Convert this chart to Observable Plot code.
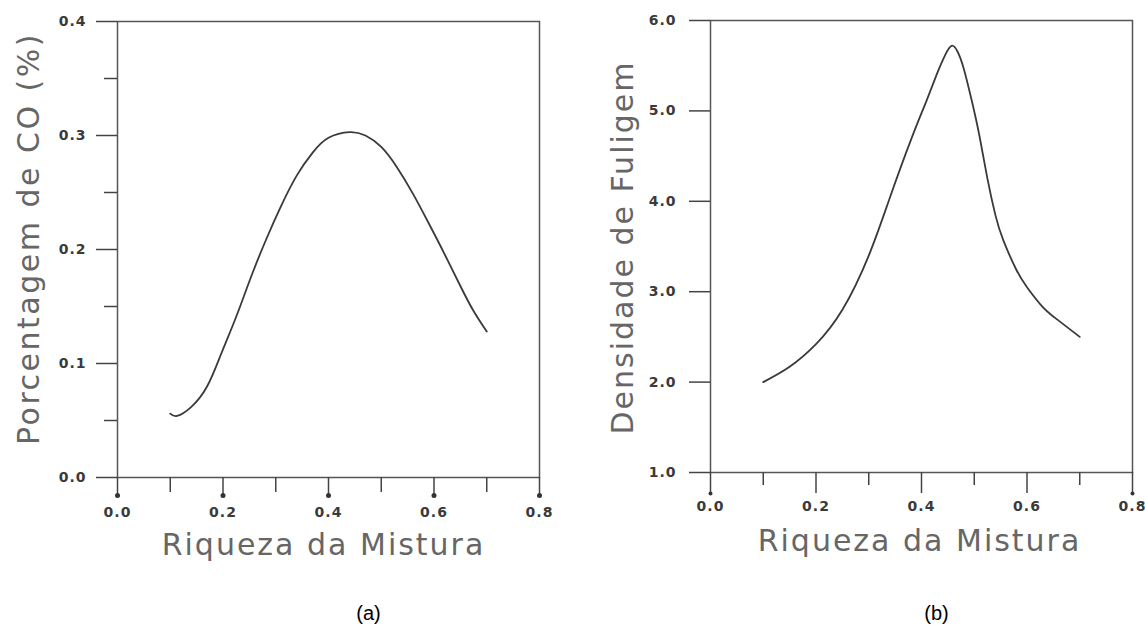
<!DOCTYPE html>
<html><head><meta charset="utf-8">
<script src="https://cdn.jsdelivr.net/npm/d3@7"></script>
<script src="https://cdn.jsdelivr.net/npm/@observablehq/plot@0.6"></script>
<style>
html,body{margin:0;padding:0;background:#fff;}
#wrap{position:relative;width:1145px;height:626px;overflow:hidden;background:#fff;}
#wrap svg{position:absolute;top:0;}
g[aria-label$="tick label"] text{letter-spacing:1px;}
</style></head><body><div id="wrap"></div>
<script>
// Tick values
const xTicks = [0, 0.2, 0.4, 0.6, 0.8];
const xMinor = [0.1, 0.3, 0.5, 0.7];
const coTicks = [0, 0.1, 0.2, 0.3, 0.4];
const coMinor = [0.05, 0.15, 0.25, 0.35];
const sootTicks = [1, 2, 3, 4, 5, 6];
const sootDots = [0, 0.8];

// Titles
const xTitle = "Riqueza da Mistura";
const yTitleA = "Porcentagem de CO (%)";
const yTitleB = "Densidade de Fuligem";

// (a) CO percentage vs mixture richness
const riquezaA = [0.10, 0.113, 0.14, 0.17, 0.197, 0.225, 0.254, 0.282, 0.31, 0.34, 0.37, 0.40, 0.44, 0.47, 0.50, 0.53, 0.56, 0.59, 0.62, 0.65, 0.675, 0.70];
const coPct    = [0.056, 0.054, 0.062, 0.080, 0.109, 0.141, 0.177, 0.209, 0.238, 0.265, 0.285, 0.298, 0.303, 0.300, 0.290, 0.272, 0.249, 0.223, 0.196, 0.168, 0.146, 0.128];

// (b) soot density vs mixture richness
const riquezaB = [0.10, 0.15, 0.20, 0.25, 0.30, 0.34, 0.38, 0.41, 0.43, 0.445, 0.457, 0.468, 0.48, 0.495, 0.51, 0.525, 0.54, 0.555, 0.58, 0.60, 0.63, 0.66, 0.70];
const soot     = [2.00, 2.17, 2.42, 2.80, 3.40, 4.04, 4.68, 5.12, 5.42, 5.62, 5.72, 5.66, 5.47, 5.12, 4.72, 4.25, 3.85, 3.57, 3.24, 3.05, 2.83, 2.68, 2.50];

const fmt = d3.format(".1f");
const titleFont = "DejaVu Sans, sans-serif";
const frameColor = "#555";
const lineColor = "#3a3a3a";
const tickStyle = {strokeWidth: 1.5, stroke: "#444", fill: "#3a3a3a", fontWeight: "bold", label: null};

const chartA = Plot.plot({
  width: 572, height: 626,
  marginLeft: 117, marginTop: 21, marginRight: 33, marginBottom: 149,
  x: {domain: [0, 0.8]},
  y: {domain: [0, 0.4]},
  style: {fontFamily: "DejaVu Sans, sans-serif", fontSize: "14px", color: "#3a3a3a", background: "transparent"},
  marks: [
    Plot.frame({stroke: frameColor, strokeWidth: 1.5}),
    Plot.axisX(xTicks, {...tickStyle, tickSize: 18, tickPadding: 12, tickFormat: fmt}),
    Plot.axisX(xMinor, {tickSize: 15, stroke: "#444", strokeWidth: 1.5, fill: "none", label: null}),
    Plot.axisY(coTicks, {...tickStyle, tickSize: 21, tickPadding: 10, tickFormat: fmt}),
    Plot.axisY(coMinor, {tickSize: 13, stroke: "#444", strokeWidth: 1.5, fill: "none", label: null}),
    Plot.dot(xTicks, {x: d => d, y: () => 0, dy: 18, r: 2.5, fill: "#333", stroke: "none"}),
    Plot.line(coPct, {x: riquezaA, y: coPct, curve: "natural", stroke: lineColor, strokeWidth: 1.8}),
    Plot.text([yTitleA], {frameAnchor: "left", textAnchor: "middle", lineAnchor: "middle", rotate: -90, dx: -88, dy: -11, fontSize: 30, fill: "#666", fontFamily: titleFont}),
    Plot.text([xTitle], {frameAnchor: "bottom", textAnchor: "middle", lineAnchor: "middle", dx: -5, dy: 68, fontSize: 30, fill: "#666", fontFamily: titleFont}),
    Plot.text(["(a)"], {frameAnchor: "bottom", textAnchor: "middle", lineAnchor: "middle", dx: 40, dy: 136, fontSize: 20, fill: "#000", fontFamily: "Liberation Sans, Arial, sans-serif"})
  ]
});

const chartB = Plot.plot({
  width: 565, height: 626,
  marginLeft: 130, marginTop: 20, marginRight: 13, marginBottom: 154,
  x: {domain: [0, 0.8]},
  y: {domain: [1, 6]},
  style: {fontFamily: "DejaVu Sans, sans-serif", fontSize: "14px", color: "#3a3a3a", background: "transparent"},
  marks: [
    Plot.frame({stroke: frameColor, strokeWidth: 1.5}),
    Plot.axisX(xTicks, {...tickStyle, tickSize: 21, tickPadding: 8, tickFormat: fmt}),
    Plot.axisX(xMinor, {tickSize: 13, stroke: "#444", strokeWidth: 1.5, fill: "none", label: null}),
    Plot.axisY(sootTicks, {...tickStyle, tickSize: 21, tickPadding: 13, tickFormat: fmt}),
    Plot.dot(sootDots, {x: d => d, y: () => 1, dy: 21, r: 2, fill: "#333", stroke: "none"}),
    Plot.line(soot, {x: riquezaB, y: soot, curve: "natural", stroke: lineColor, strokeWidth: 1.8}),
    Plot.text([yTitleB], {frameAnchor: "left", textAnchor: "middle", lineAnchor: "middle", rotate: -90, dx: -87, dy: 1, fontSize: 30, fill: "#666", fontFamily: titleFont}),
    Plot.text([xTitle], {frameAnchor: "bottom", textAnchor: "middle", lineAnchor: "middle", dx: -2, dy: 69, fontSize: 30, fill: "#666", fontFamily: titleFont}),
    Plot.text(["(b)"], {frameAnchor: "bottom", textAnchor: "middle", lineAnchor: "middle", dx: 15, dy: 141, fontSize: 20, fill: "#000", fontFamily: "Liberation Sans, Arial, sans-serif"})
  ]
});

// Plotter-style letter spacing for the axis titles
const spacing = new Map([[xTitle, "2px"], [yTitleA, "2.5px"], [yTitleB, "2px"]]);
for (const chart of [chartA, chartB]) {
  d3.select(chart).selectAll("text").each(function() {
    const s = spacing.get(this.textContent);
    if (s) this.setAttribute("letter-spacing", s);
  });
}

chartA.style.left = "0px";
chartB.style.left = "580px";
const wrap = document.getElementById("wrap");
wrap.appendChild(chartA);
wrap.appendChild(chartB);
</script></body></html>
